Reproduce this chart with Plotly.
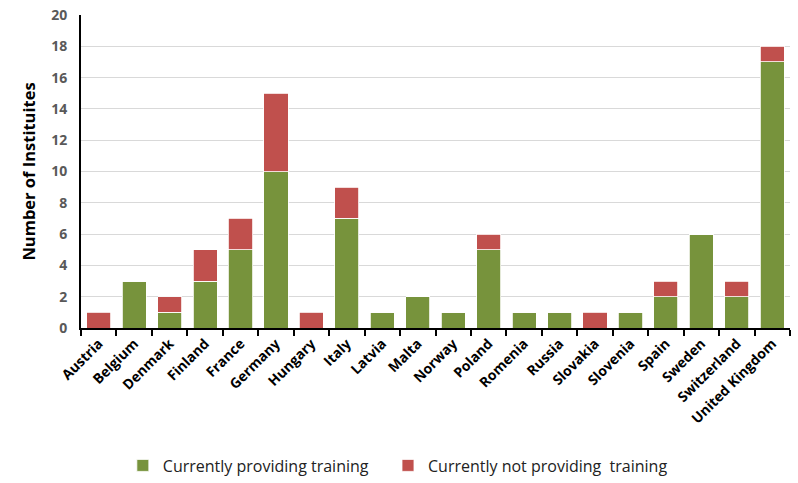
import plotly.graph_objects as go

countries = ["Austria", "Belgium", "Denmark", "Finland", "France", "Germany", "Hungary",
             "Italy", "Latvia", "Malta", "Norway", "Poland", "Romenia", "Russia",
             "Slovakia", "Slovenia", "Spain", "Sweden", "Switzerland", "United Kingdom"]
providing = [0, 3, 1, 3, 5, 10, 0, 7, 1, 2, 1, 5, 1, 1, 0, 1, 2, 6, 2, 17]
not_providing = [1, 0, 1, 2, 2, 5, 1, 2, 0, 0, 0, 1, 0, 0, 1, 0, 1, 0, 1, 1]
y_ticks = list(range(0, 21, 2))

FONT = "Open Sans"

fig = go.Figure()
fig.add_trace(go.Bar(x=countries, y=providing, name="Currently providing training",
                     legend="legend", showlegend=True,
                     marker=dict(color="#77933C", line=dict(color="white", width=0.8))))
fig.add_trace(go.Bar(x=countries, y=not_providing, name="Currently not providing  training",
                     legend="legend2", showlegend=True,
                     marker=dict(color="#C0504D", line=dict(color="white", width=0.8))))

leg_common = dict(orientation="h", xanchor="left", y=-0.385, yanchor="top",
                  font=dict(size=16, color="#222"), itemwidth=30,
                  bgcolor="rgba(0,0,0,0)")

fig.update_layout(
    showlegend=True,
    barmode="stack",
    bargap=0.32,
    width=798, height=483,
    margin=dict(l=81, r=8, t=15, b=155, autoexpand=False),
    plot_bgcolor="white", paper_bgcolor="white",
    font=dict(family=FONT, size=13, color="black"),
    legend=dict(x=0.059, visible=True, **leg_common),
    legend2=dict(x=0.433, visible=True, **leg_common),
    xaxis=dict(
        type="category",
        tickangle=-45,
        automargin=False,
        tickfont=dict(family=FONT, size=14, color="black", weight="bold"),
        showline=True, linecolor="black", linewidth=2,
        ticks="outside", tickson="boundaries", ticklen=6, tickwidth=2, tickcolor="black",
        showgrid=False,
    ),
    yaxis=dict(
        range=[0, 20],
        tickvals=y_ticks,
        automargin=False,
        ticklabeloverflow="allow",
        ticklabelstandoff=9,
        tickfont=dict(family=FONT, size=14, color="#595959", weight="bold"),
        showline=True, linecolor="black", linewidth=2,
        showgrid=True, gridcolor="#D9D9D9", gridwidth=1,
        ticks="", zeroline=False,
        title=dict(text="Number of Instituites", font=dict(family=FONT, size=16.5, color="black", weight="bold"),
                   standoff=11),
    ),
)

fig.write_html("out.html", config={"displayModeBar": False},
               post_script="document.body.style.margin='0px';")
